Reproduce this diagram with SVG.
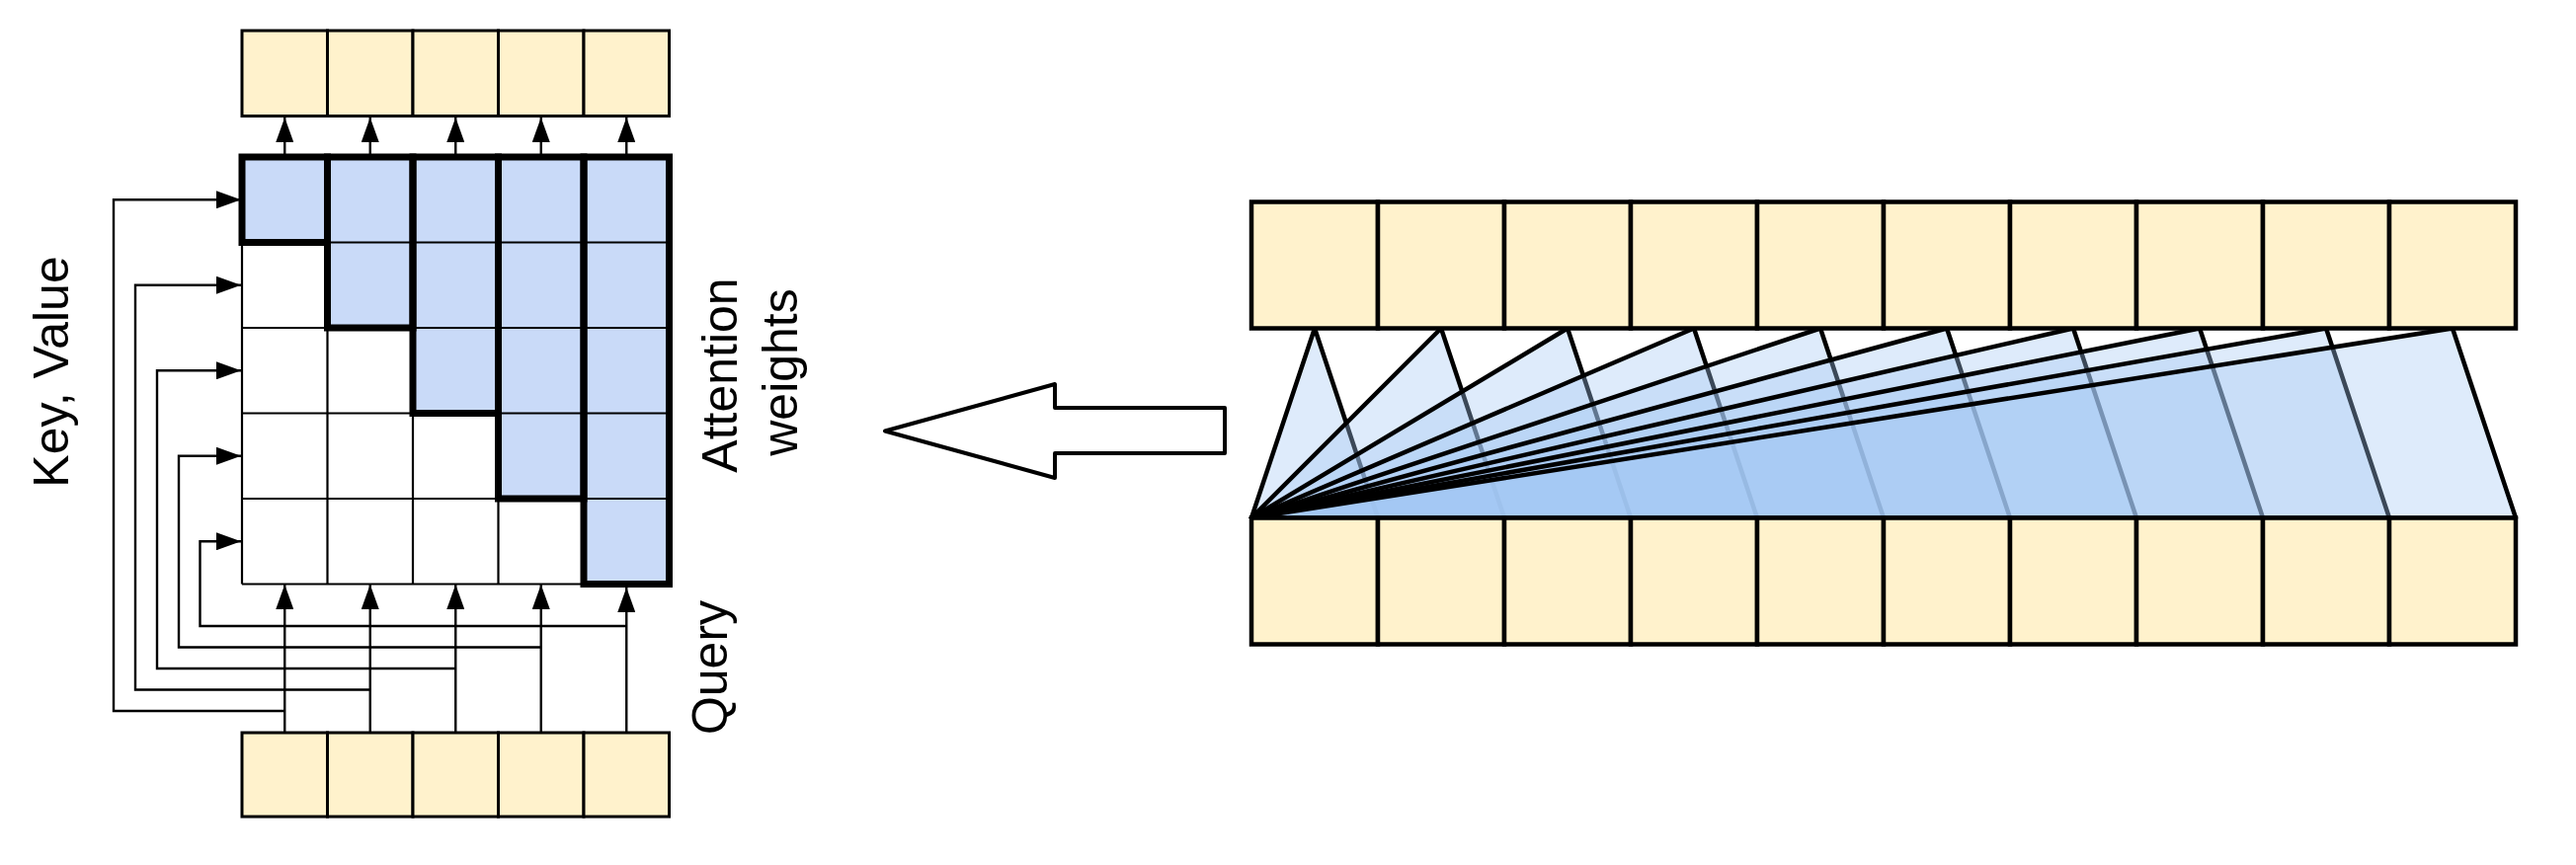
<svg xmlns="http://www.w3.org/2000/svg" width="2608" height="876" viewBox="0 0 2608 876">
<defs>
<style>
.cellY{fill:#fff2cc;stroke:#000;stroke-width:3}
.cellR{fill:#fff2cc;stroke:#000;stroke-width:4.5}
.blue{fill:#c9daf8;stroke:none}
.thin{fill:none;stroke:#000;stroke-width:2.2}
.thick{fill:none;stroke:#000;stroke-width:7;stroke-linejoin:miter}
.conn{fill:none;stroke:#000;stroke-width:2.4}
.fan{fill:#a4c8f4;fill-opacity:0.36;stroke:#000;stroke-width:4.5;stroke-linejoin:round}
.lbl{font-family:"Liberation Sans",Arial,sans-serif;font-size:50px;fill:#000}
</style>
<marker id="ah" viewBox="0 0 25 18" refX="25" refY="9" markerWidth="25" markerHeight="18" markerUnits="userSpaceOnUse" orient="auto">
<path d="M0,0 L25,9 L0,18 z" fill="#000"/>
</marker>
</defs>
<rect x="0" y="0" width="2608" height="876" fill="#fff"/>

<g id="output-row">
<rect class="cellY" x="245" y="31" width="86.5" height="86.5"/>
<rect class="cellY" x="331.5" y="31" width="86.5" height="86.5"/>
<rect class="cellY" x="418" y="31" width="86.5" height="86.5"/>
<rect class="cellY" x="504.5" y="31" width="86.5" height="86.5"/>
<rect class="cellY" x="591" y="31" width="86.5" height="86.5"/>
</g>

<g id="query-row">
<rect class="cellY" x="245" y="742" width="86.5" height="85"/>
<rect class="cellY" x="331.5" y="742" width="86.5" height="85"/>
<rect class="cellY" x="418" y="742" width="86.5" height="85"/>
<rect class="cellY" x="504.5" y="742" width="86.5" height="85"/>
<rect class="cellY" x="591" y="742" width="86.5" height="85"/>
</g>

<g id="attention-grid">
<rect x="245" y="159" width="432.5" height="432.5" fill="#fff"/>
<rect class="blue" x="245" y="159" width="86.5" height="86.5"/>
<rect class="blue" x="331.5" y="159" width="86.5" height="173"/>
<rect class="blue" x="418" y="159" width="86.5" height="259.5"/>
<rect class="blue" x="504.5" y="159" width="86.5" height="346"/>
<rect class="blue" x="591" y="159" width="86.5" height="432.5"/>
<path class="thin" d="M245,159 V591.5 M331.5,159 V591.5 M418,159 V591.5 M504.5,159 V591.5 M591,159 V591.5 M677.5,159 V591.5 M245,159 H677.5 M245,245.5 H677.5 M245,332 H677.5 M245,418.5 H677.5 M245,505 H677.5 M245,591.5 H677.5"/>
<rect class="thick" x="245" y="159" width="86.5" height="86.5"/>
<rect class="thick" x="331.5" y="159" width="86.5" height="173"/>
<rect class="thick" x="418" y="159" width="86.5" height="259.5"/>
<rect class="thick" x="504.5" y="159" width="86.5" height="346"/>
<rect class="thick" x="591" y="159" width="86.5" height="432.5"/>
</g>

<g id="connectors">
<line class="conn" x1="288.25" y1="156" x2="288.25" y2="119" marker-end="url(#ah)"/>
<line class="conn" x1="374.75" y1="156" x2="374.75" y2="119" marker-end="url(#ah)"/>
<line class="conn" x1="461.25" y1="156" x2="461.25" y2="119" marker-end="url(#ah)"/>
<line class="conn" x1="547.75" y1="156" x2="547.75" y2="119" marker-end="url(#ah)"/>
<line class="conn" x1="634.25" y1="156" x2="634.25" y2="119" marker-end="url(#ah)"/>

<line class="conn" x1="288.25" y1="742" x2="288.25" y2="592" marker-end="url(#ah)"/>
<line class="conn" x1="374.75" y1="742" x2="374.75" y2="592" marker-end="url(#ah)"/>
<line class="conn" x1="461.25" y1="742" x2="461.25" y2="592" marker-end="url(#ah)"/>
<line class="conn" x1="547.75" y1="742" x2="547.75" y2="592" marker-end="url(#ah)"/>
<line class="conn" x1="634.25" y1="742" x2="634.25" y2="595" marker-end="url(#ah)"/>

<polyline class="conn" points="288.25,720 115,720 115,202.25 244,202.25" marker-end="url(#ah)"/>
<polyline class="conn" points="374.75,698.5 137,698.5 137,288.75 244,288.75" marker-end="url(#ah)"/>
<polyline class="conn" points="461.25,677 159,677 159,375.25 244,375.25" marker-end="url(#ah)"/>
<polyline class="conn" points="547.75,655.5 181,655.5 181,461.75 244,461.75" marker-end="url(#ah)"/>
<polyline class="conn" points="634.25,634 202.5,634 202.5,548.25 244,548.25" marker-end="url(#ah)"/>
</g>

<g id="labels">
<text class="lbl" transform="translate(69,376.5) rotate(-90)" text-anchor="middle">Key, Value</text>
<text class="lbl" transform="translate(746,380) rotate(-90)" text-anchor="middle">Attention</text>
<text class="lbl" transform="translate(807,377) rotate(-90)" text-anchor="middle">weights</text>
<text class="lbl" transform="translate(736,676) rotate(-90)" text-anchor="middle">Query</text>
</g>

<g id="big-arrow">
<polygon points="896,436.5 1068,389 1068,413 1240,413 1240,459 1068,459 1068,484" fill="#fff" stroke="#000" stroke-width="4" stroke-linejoin="round"/>
</g>

<g id="fan">
<polygon class="fan" points="1267,524.5 1331,332.5 1395,524.5"/>
<polygon class="fan" points="1267,524.5 1459,332.5 1523,524.5"/>
<polygon class="fan" points="1267,524.5 1587,332.5 1651,524.5"/>
<polygon class="fan" points="1267,524.5 1715,332.5 1779,524.5"/>
<polygon class="fan" points="1267,524.5 1843,332.5 1907,524.5"/>
<polygon class="fan" points="1267,524.5 1971,332.5 2035,524.5"/>
<polygon class="fan" points="1267,524.5 2099,332.5 2163,524.5"/>
<polygon class="fan" points="1267,524.5 2227,332.5 2291,524.5"/>
<polygon class="fan" points="1267,524.5 2355,332.5 2419,524.5"/>
<polygon class="fan" points="1267,524.5 2483,332.5 2547,524.5"/>
</g>

<g id="keys-row">
<rect class="cellR" x="1267" y="204.5" width="128" height="128"/>
<rect class="cellR" x="1395" y="204.5" width="128" height="128"/>
<rect class="cellR" x="1523" y="204.5" width="128" height="128"/>
<rect class="cellR" x="1651" y="204.5" width="128" height="128"/>
<rect class="cellR" x="1779" y="204.5" width="128" height="128"/>
<rect class="cellR" x="1907" y="204.5" width="128" height="128"/>
<rect class="cellR" x="2035" y="204.5" width="128" height="128"/>
<rect class="cellR" x="2163" y="204.5" width="128" height="128"/>
<rect class="cellR" x="2291" y="204.5" width="128" height="128"/>
<rect class="cellR" x="2419" y="204.5" width="128" height="128"/>
</g>

<g id="queries-row">
<rect class="cellR" x="1267" y="524.5" width="128" height="128"/>
<rect class="cellR" x="1395" y="524.5" width="128" height="128"/>
<rect class="cellR" x="1523" y="524.5" width="128" height="128"/>
<rect class="cellR" x="1651" y="524.5" width="128" height="128"/>
<rect class="cellR" x="1779" y="524.5" width="128" height="128"/>
<rect class="cellR" x="1907" y="524.5" width="128" height="128"/>
<rect class="cellR" x="2035" y="524.5" width="128" height="128"/>
<rect class="cellR" x="2163" y="524.5" width="128" height="128"/>
<rect class="cellR" x="2291" y="524.5" width="128" height="128"/>
<rect class="cellR" x="2419" y="524.5" width="128" height="128"/>
</g>
</svg>
